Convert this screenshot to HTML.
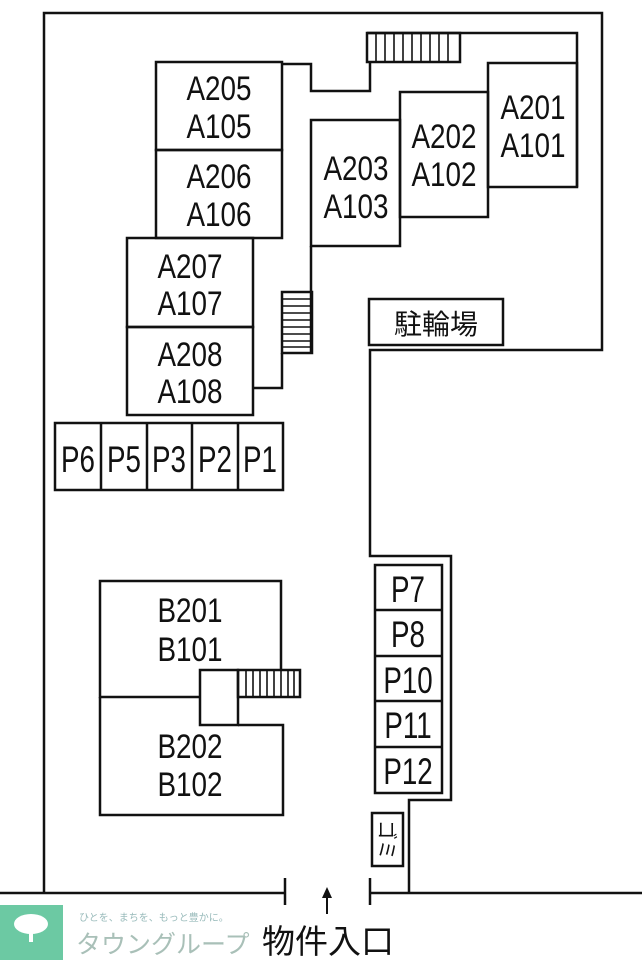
<!DOCTYPE html>
<html><head><meta charset="utf-8"><style>
html,body{margin:0;padding:0;background:#fff;width:642px;height:960px;overflow:hidden}
svg{display:block}
text{font-family:"Liberation Sans","Noto Sans CJK JP",sans-serif;fill:#111}
</style></head><body>
<svg width="642" height="960" viewBox="0 0 642 960" xmlns="http://www.w3.org/2000/svg">
<g fill="none" stroke="#111" stroke-width="2.5">
<polyline points="44,893 44,13 602,13 602,350 370,350 370,556 451,556 451,800 409,800 409,893"/>
<line x1="0" y1="893" x2="285" y2="893"/>
<line x1="370" y1="893" x2="642" y2="893"/>
<line x1="285" y1="878" x2="285" y2="905"/>
<line x1="370" y1="878" x2="370" y2="905"/>
<polyline points="367,33 577,33 577,187"/>
<polyline points="282,64 311,64 311,91 370,91 370,63"/>
<rect x="367" y="33" width="93" height="29"/>
<rect x="488" y="63" width="89" height="124"/>
<rect x="400" y="92" width="88" height="125"/>
<rect x="311" y="120" width="89" height="126"/>
<line x1="311" y1="246" x2="311" y2="353"/>
<rect x="282" y="292" width="30" height="61"/>
<polyline points="282,353 282,388 253,388"/>
<rect x="156" y="62" width="126" height="88"/>
<rect x="156" y="150" width="126" height="88"/>
<rect x="127" y="238" width="126" height="89"/>
<rect x="127" y="327" width="126" height="88"/>
<rect x="55" y="423" width="228" height="67"/>
<line x1="101" y1="423" x2="101" y2="490"/>
<line x1="147" y1="423" x2="147" y2="490"/>
<line x1="192" y1="423" x2="192" y2="490"/>
<line x1="238" y1="423" x2="238" y2="490"/>
<rect x="369" y="299" width="134" height="46"/>
<polyline points="200,697 100,697 100,581 281,581 281,670"/>
<polyline points="100,697 100,815 283,815 283,725 238,725"/>
<rect x="200" y="670" width="38" height="55"/>
<rect x="238" y="670" width="62" height="27"/>
<rect x="375" y="565" width="67" height="228"/>
<line x1="375" y1="610" x2="442" y2="610"/>
<line x1="375" y1="656" x2="442" y2="656"/>
<line x1="375" y1="701" x2="442" y2="701"/>
<line x1="375" y1="747" x2="442" y2="747"/>
<rect x="372" y="813" width="31" height="53"/>
</g>
<g stroke="#111" stroke-width="1.6">
<line x1="376" y1="33" x2="376" y2="62"/><line x1="385" y1="33" x2="385" y2="62"/><line x1="394" y1="33" x2="394" y2="62"/><line x1="403" y1="33" x2="403" y2="62"/><line x1="412" y1="33" x2="412" y2="62"/><line x1="421" y1="33" x2="421" y2="62"/><line x1="430" y1="33" x2="430" y2="62"/><line x1="439" y1="33" x2="439" y2="62"/><line x1="448" y1="33" x2="448" y2="62"/>
<line x1="282" y1="299" x2="312" y2="299"/><line x1="282" y1="306" x2="312" y2="306"/><line x1="282" y1="313" x2="312" y2="313"/><line x1="282" y1="320" x2="312" y2="320"/><line x1="282" y1="327" x2="312" y2="327"/><line x1="282" y1="334" x2="312" y2="334"/><line x1="282" y1="341" x2="312" y2="341"/><line x1="282" y1="347" x2="312" y2="347"/>
<line x1="246" y1="670" x2="246" y2="697"/><line x1="253" y1="670" x2="253" y2="697"/><line x1="260" y1="670" x2="260" y2="697"/><line x1="267" y1="670" x2="267" y2="697"/><line x1="274" y1="670" x2="274" y2="697"/><line x1="281" y1="670" x2="281" y2="697"/><line x1="288" y1="670" x2="288" y2="697"/><line x1="294" y1="670" x2="294" y2="697"/>
</g>
<g font-size="34" text-anchor="middle">
<text transform="translate(219,100) scale(0.82,1)">A205</text><text transform="translate(219,138) scale(0.82,1)">A105</text>
<text transform="translate(219,188) scale(0.82,1)">A206</text><text transform="translate(219,226) scale(0.82,1)">A106</text>
<text transform="translate(190,278) scale(0.82,1)">A207</text><text transform="translate(190,315) scale(0.82,1)">A107</text>
<text transform="translate(190,366) scale(0.82,1)">A208</text><text transform="translate(190,403) scale(0.82,1)">A108</text>
<text transform="translate(356,180) scale(0.82,1)">A203</text><text transform="translate(356,218) scale(0.82,1)">A103</text>
<text transform="translate(444,148) scale(0.82,1)">A202</text><text transform="translate(444,186) scale(0.82,1)">A102</text>
<text transform="translate(533,119) scale(0.82,1)">A201</text><text transform="translate(533,157) scale(0.82,1)">A101</text>
<text transform="translate(190,622) scale(0.82,1)">B201</text><text transform="translate(190,661) scale(0.82,1)">B101</text>
<text transform="translate(190,758) scale(0.82,1)">B202</text><text transform="translate(190,796) scale(0.82,1)">B102</text>
</g>
<text x="436" y="334" font-size="28" text-anchor="middle">駐輪場</text>
<g font-size="37" text-anchor="middle">
<text transform="translate(78,472) scale(0.75,1)">P6</text>
<text transform="translate(124,472) scale(0.75,1)">P5</text>
<text transform="translate(169,472) scale(0.75,1)">P3</text>
<text transform="translate(215,472) scale(0.75,1)">P2</text>
<text transform="translate(260,472) scale(0.75,1)">P1</text>
<text transform="translate(408,602) scale(0.75,1)">P7</text>
<text transform="translate(408,647) scale(0.75,1)">P8</text>
<text transform="translate(408,693) scale(0.75,1)">P10</text>
<text transform="translate(408,738) scale(0.75,1)">P11</text>
<text transform="translate(408,784) scale(0.75,1)">P12</text>
</g>
<text transform="translate(380,840) rotate(90)" font-size="20" text-anchor="middle">ゴミ</text>
<line x1="327" y1="892" x2="327" y2="914" stroke="#111" stroke-width="2"/>
<polygon points="322,898 327,887 332,898" fill="#111"/>
<rect x="0" y="905" width="63" height="55" fill="#6cc9a3"/>
<ellipse cx="31" cy="924" rx="17" ry="10" fill="#fff"/>
<rect x="29" y="930" width="4" height="12" fill="#fff"/>
<text x="79" y="921" font-size="10" style="fill:#9bb">ひとを、まちを、もっと豊かに。</text>
<text x="76" y="953" font-size="25" style="fill:#a9c0b8">タウングループ</text>
<text x="262" y="953" font-size="33">物件入口</text>
</svg>
</body></html>
